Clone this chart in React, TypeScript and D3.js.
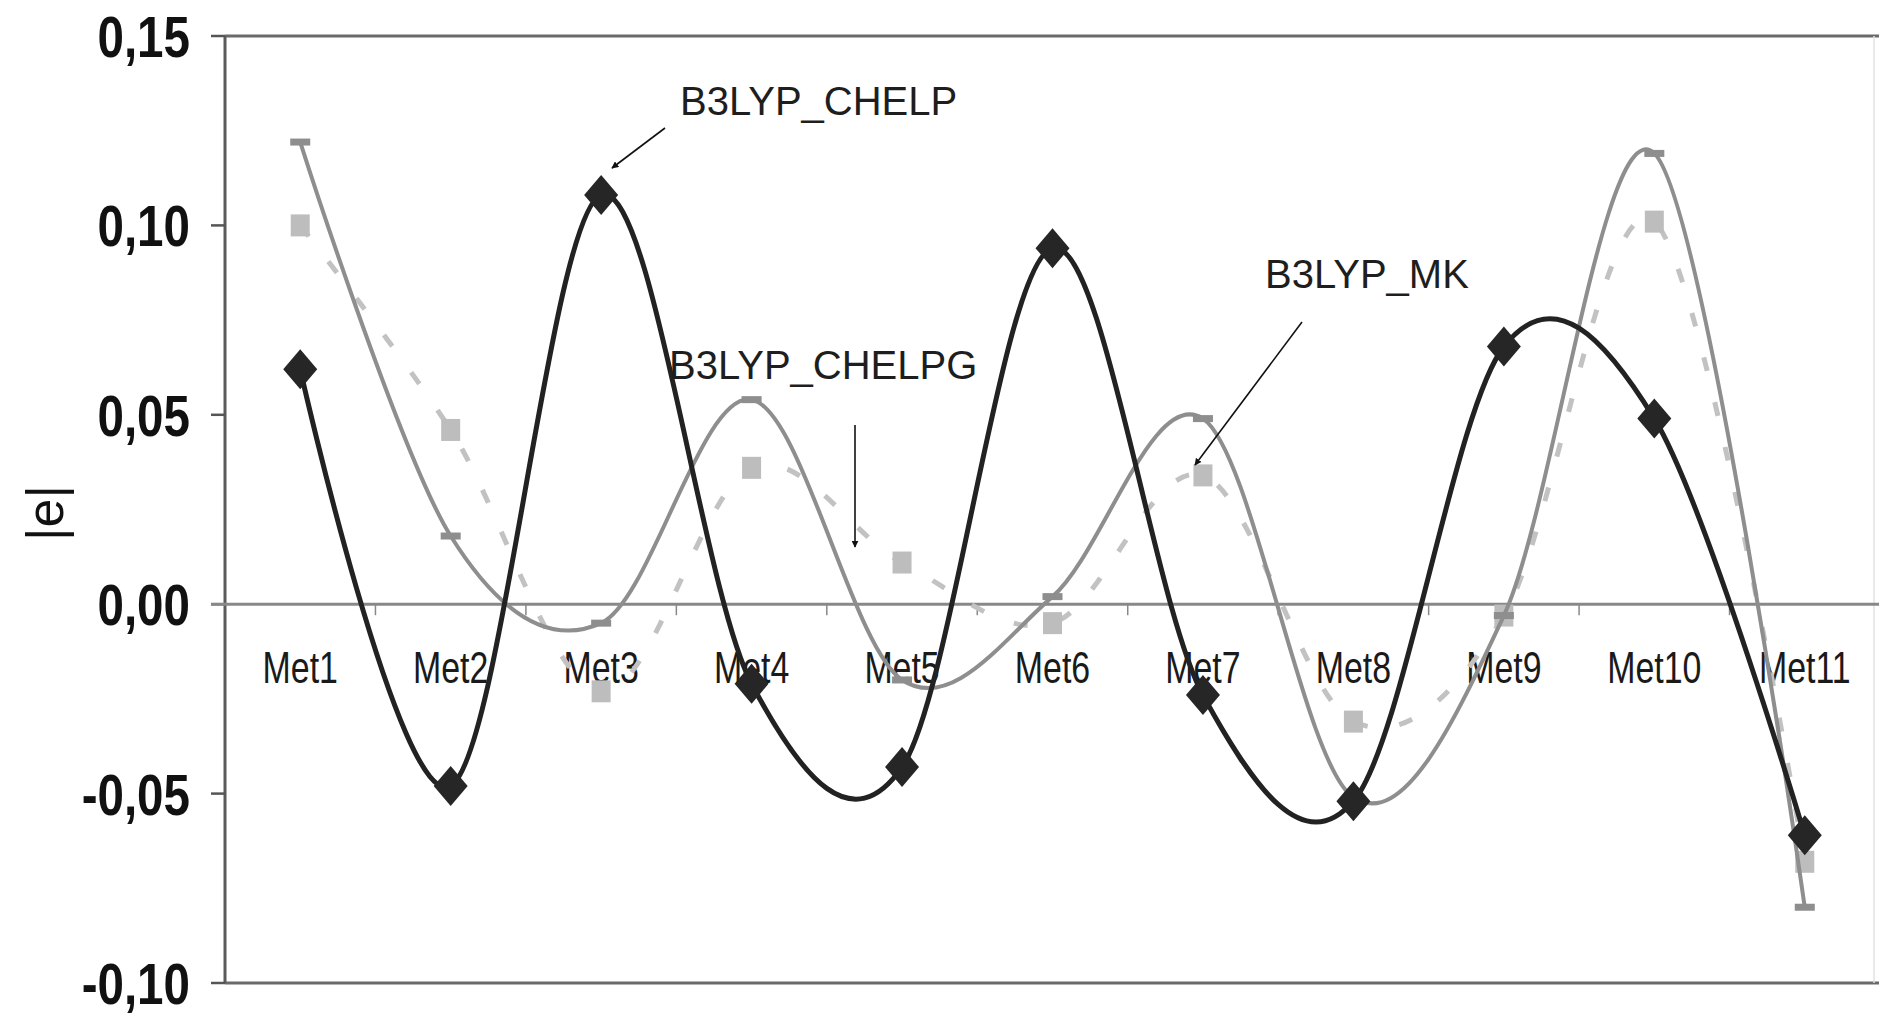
import React from "react";
import * as d3 from "d3";

const categories = ["Met1","Met2","Met3","Met4","Met5","Met6","Met7","Met8","Met9","Met10","Met11"];
const chelp = [0.062,-0.048,0.108,-0.021,-0.043,0.094,-0.024,-0.052,0.068,0.049,-0.061];
const chelpg = [0.122,0.018,-0.005,0.054,-0.020,0.002,0.049,-0.051,-0.003,0.119,-0.080];
const mk = [0.100,0.046,-0.023,0.036,0.011,-0.005,0.034,-0.031,-0.003,0.101,-0.068];
const yTicks = [0.15,0.10,0.05,0.0,-0.05,-0.10];
const yTickLabels = ["0,15","0,10","0,05","0,00","-0,05","-0,10"];
const annotationLabels = ["B3LYP_CHELP","B3LYP_CHELPG","B3LYP_MK"];
const yAxisTitle = "|e|";

const W = 1879, H = 1016;
const L = 225, R = 1880, T = 36, B = 983;

export default function App() {
  const x = d3.scaleBand<string>().domain(categories).range([L, R]).paddingInner(0).paddingOuter(0);
  const bw = x.bandwidth();
  const cx = (c: string) => (x(c) as number) + bw / 2;
  const y = d3.scaleLinear().domain([-0.10, 0.15]).range([B, T]);
  const line = d3.line<number>()
    .x((_, i) => cx(categories[i]))
    .y((d) => y(d))
    .curve(d3.curveCardinal.tension(0));
  const font = "'Liberation Sans', Arial, sans-serif";
  const arrows = [
    { x1: 665, y1: 128, x2: 612, y2: 168 },
    { x1: 855, y1: 425, x2: 855, y2: 547 },
    { x1: 1302, y1: 322, x2: 1195, y2: 465 },
  ];
  const labelPos = [
    { x: 680, y: 115 },
    { x: 669, y: 379 },
    { x: 1265, y: 288 },
  ];
  return (
    <svg width={W} height={H} style={{ position: "absolute", left: 0, top: 0, background: "#fff" }}>
      <defs>
        <marker id="ah" viewBox="0 0 10 10" refX="9" refY="5" markerWidth="7" markerHeight="7" markerUnits="userSpaceOnUse" orient="auto">
          <path d="M0,0 L10,5 L0,10 Z" fill="#111" />
        </marker>
      </defs>
      <rect x={0} y={0} width={W} height={H} fill="#fff" />
      {/* frame */}
      <line x1={L} x2={W} y1={T} y2={T} stroke="#6a6a6a" strokeWidth={3} />
      <line x1={L} x2={W} y1={B} y2={B} stroke="#6a6a6a" strokeWidth={3} />
      <line x1={1874} x2={1874} y1={T} y2={B} stroke="#e2e2e2" strokeWidth={1.5} />
      <line x1={L} x2={L} y1={T} y2={B} stroke="#5a5a5a" strokeWidth={3} />
      {/* y ticks */}
      {yTicks.map((t, i) => (
        <g key={"yt" + i}>
          <line x1={211} x2={L} y1={y(t)} y2={y(t)} stroke="#555" strokeWidth={2.5} />
          <text
            transform={`translate(190,${y(t) + 21}) scale(0.82,1)`}
            textAnchor="end"
            fontFamily={font}
            fontWeight="bold"
            fontSize={58}
            fill="#111"
          >
            {yTickLabels[i]}
          </text>
        </g>
      ))}
      {/* zero line */}
      <line x1={211} x2={W} y1={y(0)} y2={y(0)} stroke="#888" strokeWidth={3} />
      {categories.slice(1).map((c) => (
        <line key={"ct" + c} x1={x(c) as number} x2={x(c) as number} y1={y(0)} y2={y(0) + 11} stroke="#888" strokeWidth={1.5} />
      ))}
      {/* category labels */}
      {categories.map((c) => (
        <text
          key={"cl" + c}
          transform={`translate(${cx(c)},683) scale(0.77,1)`}
          textAnchor="middle"
          fontFamily={font}
          fontSize={44}
          fill="#1a1a1a"
        >
          {c}
        </text>
      ))}
      {/* y axis title */}
      <text
        transform="translate(63,513) rotate(-90)"
        textAnchor="middle"
        fontFamily={font}
        fontSize={52}
        fill="#111"
      >
        {yAxisTitle}
      </text>
      {/* MK dashed */}
      <path d={line(mk) || ""} fill="none" stroke="#c2c2c2" strokeWidth={5} strokeDasharray="14 32" />
      {mk.map((v, i) => (
        <rect key={"mk" + i} x={cx(categories[i]) - 9.5} y={y(v) - 11} width={19} height={22} fill="#bdbdbd" />
      ))}
      {/* CHELPG solid gray */}
      <path d={line(chelpg) || ""} fill="none" stroke="#8e8e8e" strokeWidth={4} />
      {chelpg.map((v, i) => (
        <rect key={"pg" + i} x={cx(categories[i]) - 10} y={y(v) - 3.5} width={20} height={7} fill="#8e8e8e" />
      ))}
      {/* CHELP black */}
      <path d={line(chelp) || ""} fill="none" stroke="#222" strokeWidth={5} />
      {chelp.map((v, i) => {
        const px = cx(categories[i]);
        const py = y(v);
        return (
          <path key={"cp" + i} d={`M${px},${py - 20} L${px + 17},${py} L${px},${py + 20} L${px - 17},${py} Z`} fill="#262626" />
        );
      })}
      {/* annotations */}
      {arrows.map((a, i) => (
        <line key={"ar" + i} x1={a.x1} y1={a.y1} x2={a.x2} y2={a.y2} stroke="#111" strokeWidth={1.6} markerEnd="url(#ah)" />
      ))}
      {annotationLabels.map((t, i) => (
        <text key={"an" + i} x={labelPos[i].x} y={labelPos[i].y} fontFamily={font} fontSize={40} fill="#1e1e1e">
          {t}
        </text>
      ))}
    </svg>
  );
}
